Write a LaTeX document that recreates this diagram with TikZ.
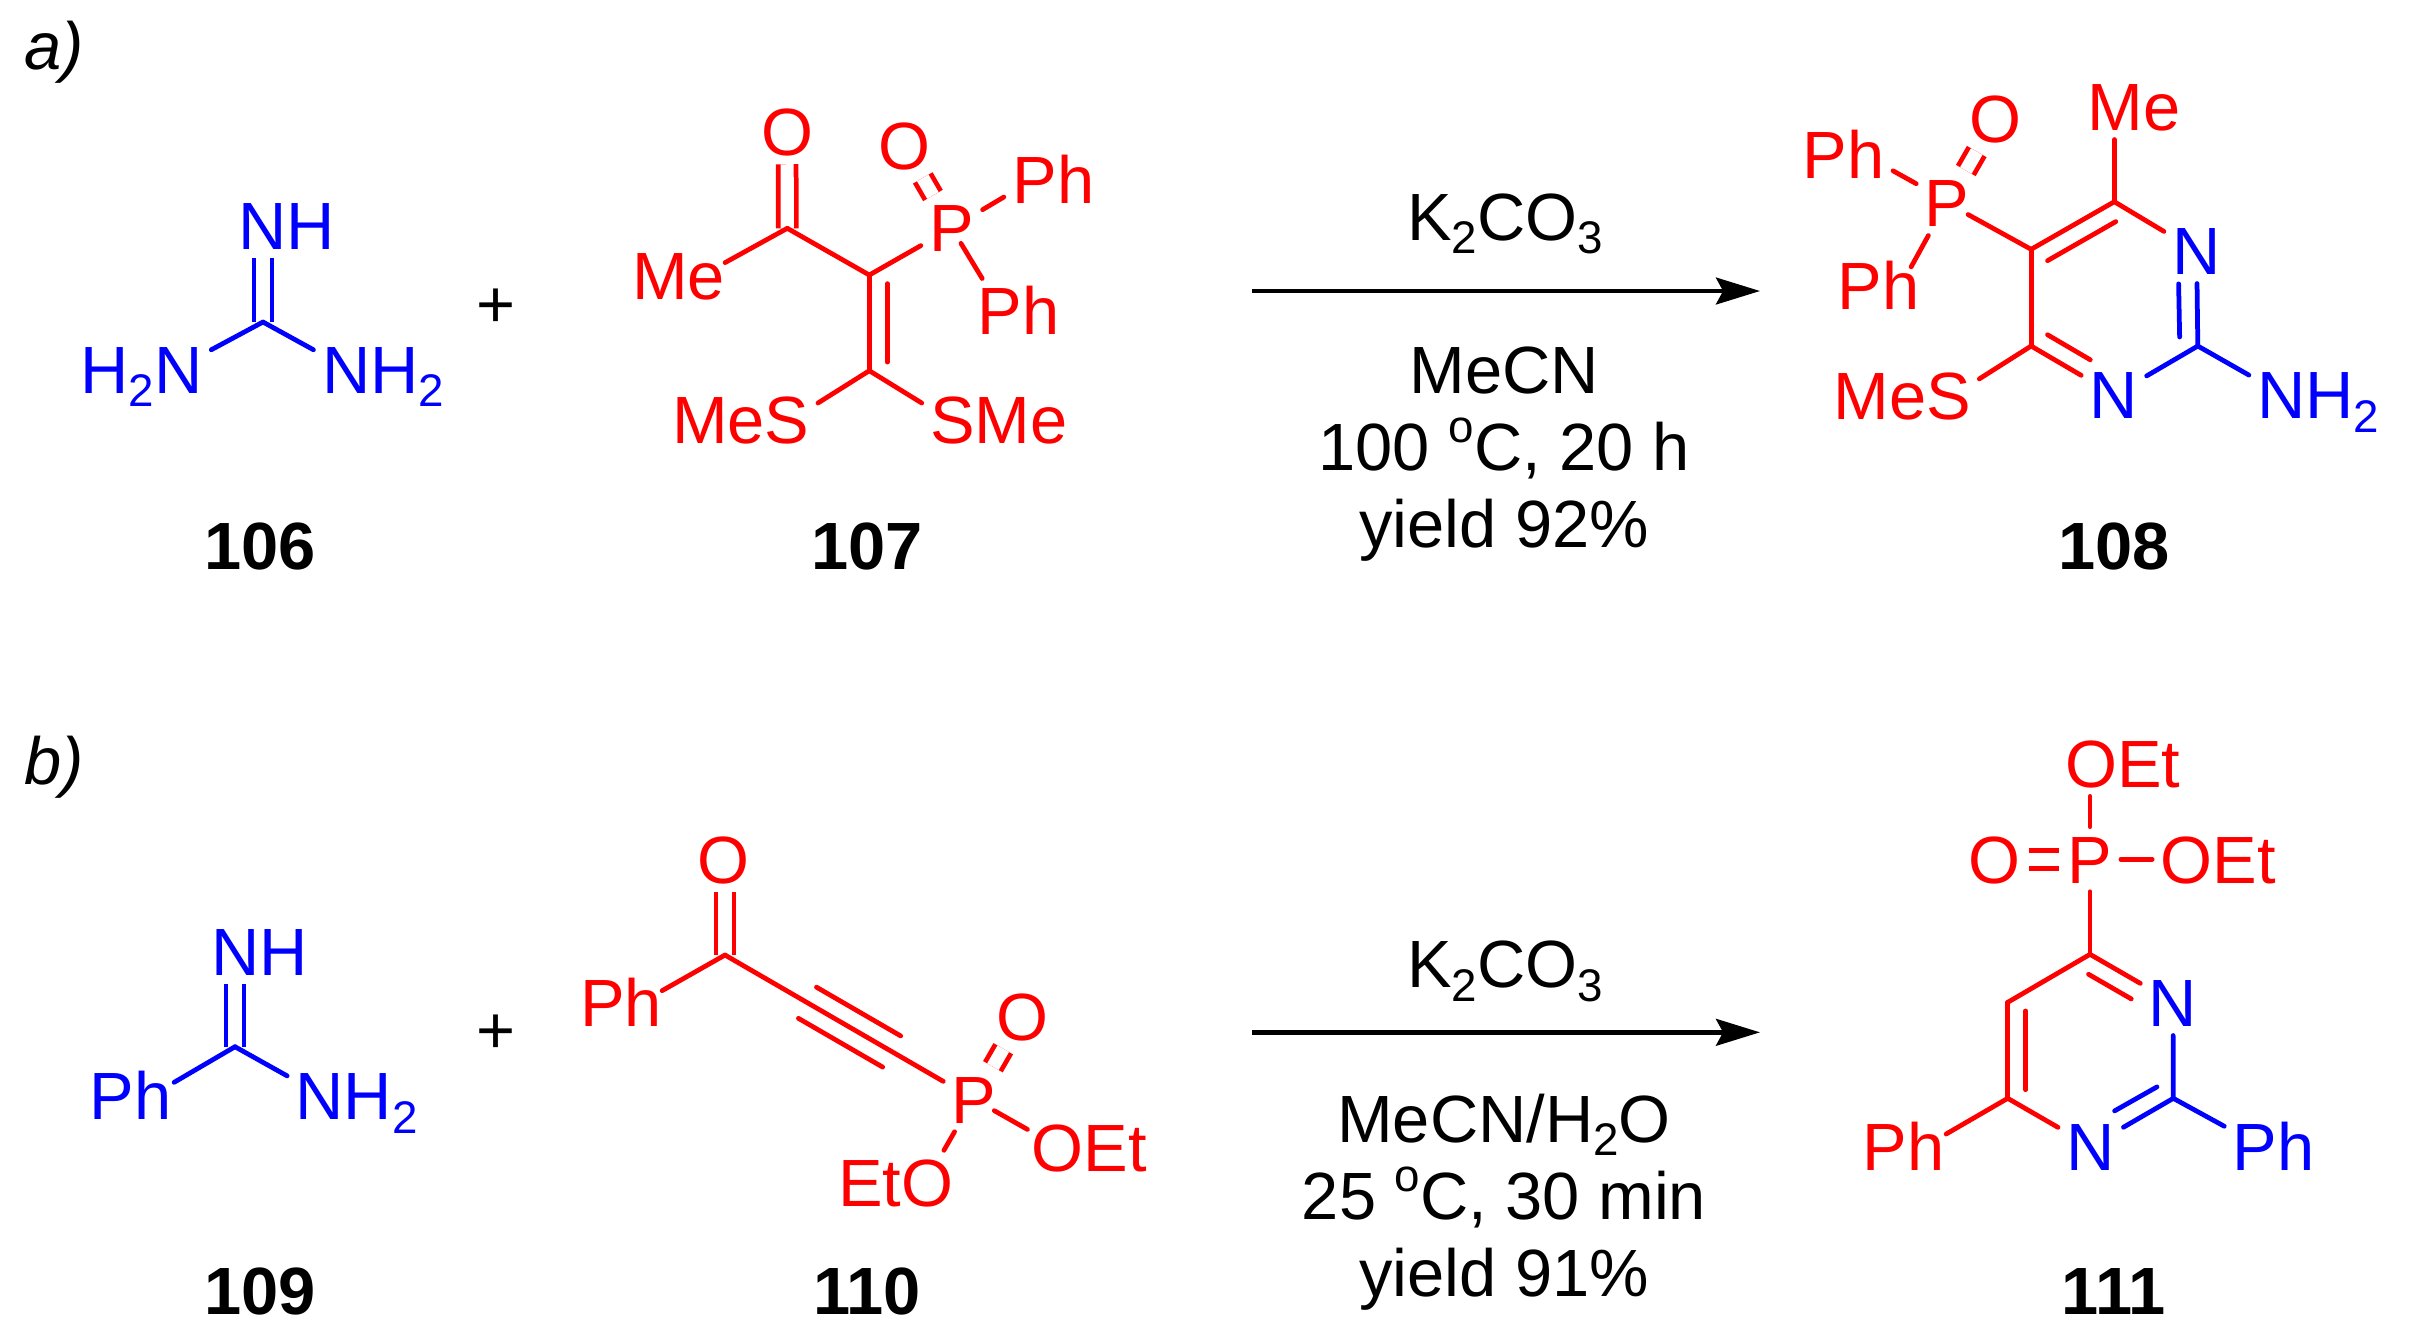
\documentclass[tikz,border=0pt]{standalone}
\usepackage{fontspec}
\setmainfont{Liberation Sans}
\usetikzlibrary{arrows.meta}
\usetikzlibrary{calc}
\tikzstyle{atom}=[inner sep=2.45pt,outer sep=0pt,text height=13.6pt,text depth=0pt,font=\fontsize{19}{22}\selectfont]
\tikzstyle{ratom}=[atom,text=red]
\tikzstyle{batom}=[atom,text=blue]
\tikzstyle{cpd}=[atom,font=\fontsize{19}{22}\selectfont\bfseries]
\tikzstyle{cond}=[inner sep=0pt,align=center,font=\fontsize{19}{21.9}\selectfont]
\tikzstyle{rbond} = [draw=red,line width=1.35pt,line cap=round]
\tikzstyle{bbond} = [draw=blue,line width=1.35pt,line cap=round]
\tikzstyle{rdbl} = [draw=red,line width=1.35pt,double=white,double distance=3.75pt]
\tikzstyle{bdbl} = [draw=blue,line width=1.35pt,double=white,double distance=3.75pt]
\tikzstyle{rarrow} = [draw,line width=1.35pt,-{Stealth[length=12.5pt,width=7.6pt,inset=2pt]}]
\tikzset{longer/.style={shorten >=-#1}}
\newcommand{\subs}[1]{\raisebox{-.2em}{\fontsize{13}{13}\selectfont #1}}
\newcommand{\degr}{\raisebox{.42em}{\fontsize{13}{13}\selectfont o}}
\newcommand{\inbond}[5]{\path[#1] ($(#2)!#4!(#3)!5.12pt!90:(#3)$) -- ($(#3)!#5!(#2)!5.12pt!-90:(#2)$);}
\begin{document}
\begin{tikzpicture}[x=0.01cm,y=-0.01cm]

  \useasboundingbox (0,0) rectangle (2410,1332);

  \foreach \x/\y/\name in {263/322/g1, 235/1046.7/g2,
      787.3/228.3/c1, 869.3/275/c2, 869.3/370.7/c3,
      2114.3/201.7/c4, 2031.1/249.3/c5, 2031.1/346/c6, 2197.8/346/c7,
      725/955/c8,
      2090/954.3/c11, 2007.7/1002.3/c12, 2007.7/1098.3/c13, 2173.3/1098.3/c14,
      1252/291/a1, 1760/291/a2, 1252/1032.3/b1, 1760/1032.3/b2}
          \coordinate (\name) at (\x, \y);

  % red atoms
  \foreach \x/\y/\name/\label in {
      787/131.7/o1/O, 678.7/275.7/me1/Me, 951.7/228/p1/P, 904/145.4/o2/O,
      1053.3/180/ph1/Ph, 1018.3/311/ph2/Ph, 740.7/419.4/mes1/MeS, 999/419.4/sme1/SMe,
      2134/107/me2/Me, 1947.1/203/p2/P, 1995.4/119/o3/O, 1843.5/154.7/ph3/Ph,
      1878.4/285.8/ph4/Ph, 1902/395.3/mes2/MeS,
      723.8/859.2/o4/O, 620.9/1003/ph5/Ph, 974.1/1099.2/p3/P, 1022/1016.2/o5/O,
      1089.3/1147.2/oet1/OEt, 895.7/1182.8/eto1/EtO,
      2122.7/763.8/oet2/OEt, 1994/859.2/o6/O, 2090/859.2/p4/P, 2218.3/859.2/oet3/OEt,
      1903.3/1146.2/ph6/Ph}
          \node[ratom] (\name) at (\x, \y) {\label};

  % blue atoms
  \foreach \x/\y/\name/\label in {
      286.7/225.7/nh1/NH, 141.7/369.7/hn1/H\subs{2}N, 383/369.7/nh21/NH\subs{2},
      2196.6/251/n1/N, 2113.9/395/n2/N, 2318.4/395/nh22/NH\subs{2},
      259.4/951.5/nh3/NH, 130.7/1095.8/ph7/Ph, 356.7/1095.8/nh23/NH\subs{2},
      2173/1003/n3/N, 2090.7/1146.2/n4/N, 2273.7/1146.2/ph8/Ph}
          \node[batom] (\name) at (\x, \y) {\label};

  % compounds, plus signs
  \foreach \x/\y/\name/\label in {260/546/m106/106, 867/546/m107/107, 2114/546/m108/108,
      260/1291/m109/109, 867/1291/m110/110, 2114/1291/m111/111}
          \node[cpd] (\name) at (\x, \y) {\label};
  \node[atom] (plus1) at (496.3,303.3) {+};
  \node[atom] (plus2) at (496.3,1030) {+};
  \node[atom,anchor=base west] (parta) at (16,69) {\textit{a)}};
  \node[atom,anchor=base west] (partb) at (16,784) {\textit{b)}};

  % double bonds first
  \foreach \source/\dest in {c1/o1, p1/o2, p2/o3, p3/o5, p4/o6}
         \path[rdbl] (\source) -- (\dest);
  \path[rdbl] (c8) -- (c8 |- o4.south);
  \path[bdbl] (g1) -- (g1 |- nh1.south);
  \path[bdbl] (g2) -- (g2 |- nh3.south);

  \foreach \source/\dest in {c1/c2, c2/p1, c2/c3, p1/ph1.199, c3/mes1.12, c3/sme1.168,
      c4/c5, c5/c6, c4/n1, c6/n2.149, c6/mes2.12, ph3.-18/p2.148,
      c8/p3, p3.239/eto1.34,
      p4/oet3, c11/n3.149, c11/c12, c12/c13, c13/n4}
         \path[rbond] (\source) -- (\dest);
  \path[rbond,longer=2.8pt] (c1) -- (me1.18);
  \path[rbond,shorten <=5.1pt] (p1.center) -- (ph2.138);
  \path[rbond] (c4) -- (c4 |- me2.south);
  \path[rbond,longer=4.4pt] (p2.240) -- (ph4.39);
  \path[rbond,shorten <=6.8pt] (p2.center) -- (c5);
  \path[rbond,longer=2.7pt] (c8) -- (ph5.19);
  \path[rbond,shorten <=6.6pt,longer=1.4pt] (p3.center) -- (oet1.163);
  \path[rbond] (p4.north) -- (p4.north |- oet2.south);
  \path[rbond] (p4.south) -- (c11);
  \path[rbond,longer=2.2pt] (c13) -- (ph6.18);

  \foreach \source/\dest in {g1/hn1.16, g1/nh21.164, g2/nh23.164,
      n1/c7, c7/n2, c7/nh22.164, n3/c14, c14/n4, c14/ph8.158}
         \path[bbond] (\source) -- (\dest);
  \path[bbond,longer=2pt] (g2) -- (ph7.19);

  % second lines of the double and triple bonds
  \inbond{rbond}{c2}{c3}{.09}{.09}
  \inbond{rbond}{c4}{c5}{.09}{.09}
  \inbond{rbond}{c6}{n2.149}{.146}{0}
  \inbond{bbond}{c7}{n1.south}{.15}{0}
  \inbond{rbond}{c8}{p3}{.331}{.331}
  \inbond{rbond}{p3}{c8}{.331}{.331}
  \inbond{rbond}{n3.149}{c11}{0}{.15}
  \inbond{rbond}{c12}{c13}{.09}{.09}
  \inbond{bbond}{n4.31}{c14}{0}{.15}

  % reactions
  \path[rarrow] (a1) -- (a2);
  \path[rarrow] (b1) -- (b2);
  \node[atom] (k1) at (1505,216.3) {K\subs{2}CO\subs{3}};
  \node[atom] (k2) at (1505,964) {K\subs{2}CO\subs{3}};
  \node[cond] (r1) at (1504,454) {MeCN\\100 \degr C, 20 h\\yield 92\%};
  \node[cond] (r2) at (1504,1202) {MeCN/H\subs{2}O\\25 \degr C, 30 min\\yield 91\%};

\end{tikzpicture}
\end{document}
